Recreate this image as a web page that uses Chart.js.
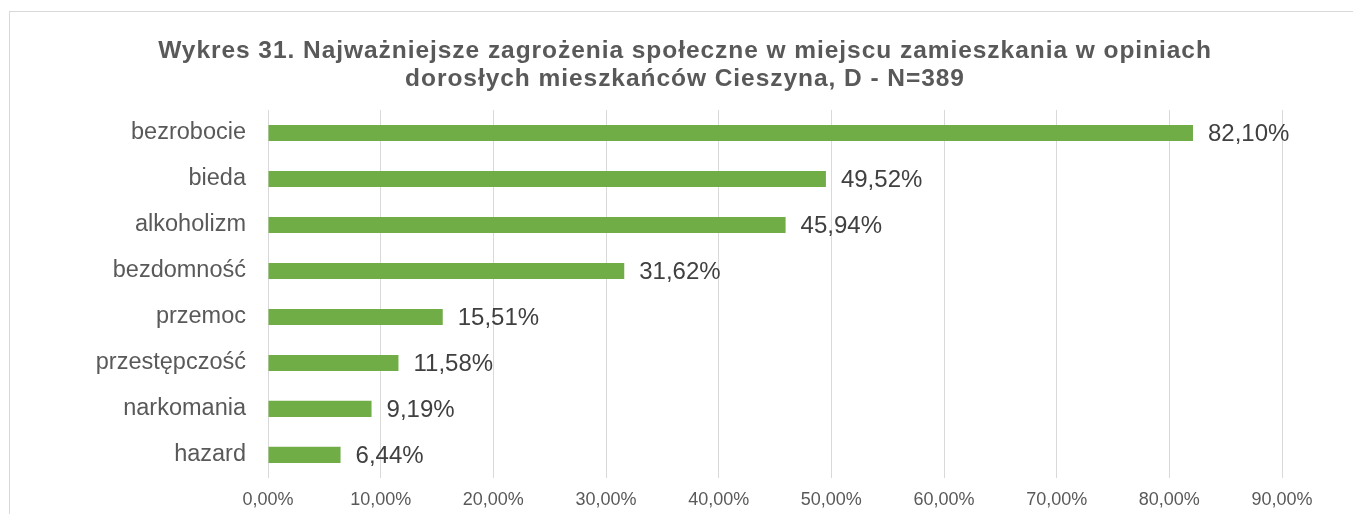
<!DOCTYPE html>
<html>
<head>
<meta charset="utf-8">
<script src="https://cdn.jsdelivr.net/npm/chart.js@4/dist/chart.umd.min.js"></script>
<style>
html,body{margin:0;padding:0;background:#fff;overflow:hidden;}
#frame{position:absolute;left:9px;top:11px;width:1400px;height:600px;border:1.5px solid #d9d9d9;box-sizing:border-box;}
#wrap{position:absolute;left:0;top:0;width:1353px;height:514px;}
</style>
</head>
<body>
<div id="frame"></div>
<div id="wrap"><canvas id="c" width="1353" height="514"></canvas></div>
<script>
const categories = ["bezrobocie","bieda","alkoholizm","bezdomność","przemoc","przestępczość","narkomania","hazard"];
const values = [82.10, 49.52, 45.94, 31.62, 15.51, 11.58, 9.19, 6.44];
const titleLines = ["Wykres 31. Najważniejsze zagrożenia społeczne w miejscu zamieszkania w opiniach","dorosłych mieszkańców Cieszyna, D - N=389"];
const axisMin = 0, axisMax = 90, axisStep = 10;

const fmt = v => v.toFixed(2).replace('.', ',') + '%';
const FONT = "'Liberation Sans', Arial, sans-serif";

const titlePlugin = {
  id: 'wideTitle',
  afterDraw(chart) {
    const ctx = chart.ctx;
    ctx.save();
    ctx.font = "bold 24.5px " + FONT;
    try { ctx.letterSpacing = '0.95px'; } catch (e) {}
    ctx.fillStyle = "#595959";
    ctx.textAlign = "center";
    ctx.textBaseline = "alphabetic";
    titleLines.forEach((t, i) => ctx.fillText(t, 685, 58 + i * 28));
    ctx.restore();
  }
};

const labelPlugin = {
  id: 'valueLabels',
  afterDatasetsDraw(chart) {
    const ctx = chart.ctx;
    const meta = chart.getDatasetMeta(0);
    ctx.save();
    ctx.font = "24px " + FONT;
    ctx.fillStyle = "#404040";
    ctx.textAlign = "left";
    ctx.textBaseline = "middle";
    meta.data.forEach((el, i) => {
      ctx.fillText(fmt(values[i]), el.x + 15, el.y + 1);
    });
    ctx.restore();
  }
};

new Chart(document.getElementById('c'), {
  type: 'bar',
  data: {
    labels: categories,
    datasets: [{
      data: values,
      backgroundColor: '#70AD47',
      borderWidth: 0,
      barPercentage: 0.35,
      categoryPercentage: 1
    }]
  },
  options: {
    indexAxis: 'y',
    responsive: false,
    animation: false,
    devicePixelRatio: 1,
    layout: { padding: { top: 110, left: 0, right: 71, bottom: 0 } },
    plugins: {
      legend: { display: false },
      tooltip: { enabled: false },
      title: { display: false }
    },
    scales: {
      x: {
        min: axisMin, max: axisMax,
        ticks: {
          stepSize: axisStep,
          callback: v => fmt(v),
          color: '#595959',
          font: { family: FONT, size: 18 },
          padding: 11,
          maxRotation: 0
        },
        grid: { color: '#d9d9d9', lineWidth: 1, drawTicks: false },
        border: { display: false },
        afterFit(scale) { scale.height = 36; }
      },
      y: {
        ticks: {
          color: '#595959',
          font: { family: FONT, size: 23.5 },
          padding: 22
        },
        grid: { display: false, drawTicks: false },
        border: { display: false },
        afterFit(scale) { scale.width = 268; }
      }
    }
  },
  plugins: [labelPlugin, titlePlugin]
});
</script>
</body>
</html>
